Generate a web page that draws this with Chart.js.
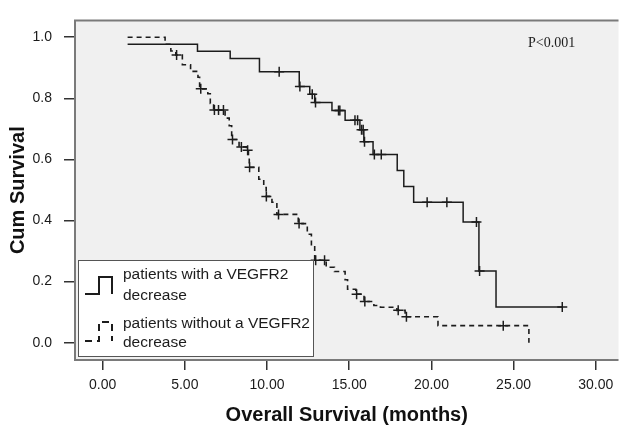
<!DOCTYPE html>
<html>
<head>
<meta charset="utf-8">
<title>Overall survival by VEGFR2 change</title>
<script src="https://cdn.jsdelivr.net/npm/chart.js@4.4.1/dist/chart.umd.min.js"></script>
<style>
  html, body { margin: 0; padding: 0; background: #fff; }
  #km { display: block; }
</style>
</head>
<body>
<canvas id="km" width="625" height="427"></canvas>
<script>
/* Kaplan-Meier curves: overall survival, VEGFR2 decrease vs no decrease */

const xTicks = [0, 5, 10, 15, 20, 25, 30];
const yTicks = [0, 0.2, 0.4, 0.6, 0.8, 1.0];

// patients with a VEGFR2 decrease (solid)
const withTime = [1.52, 5.77, 7.76, 9.54, 11.96, 12.6, 12.9, 13.95, 14.75, 15.65, 15.89, 16.45, 17.92, 18.32, 18.92, 21.93, 22.89, 23.93, 27.96];
const withSurv = [0.977, 0.954, 0.930, 0.887, 0.839, 0.813, 0.786, 0.760, 0.728, 0.697, 0.658, 0.616, 0.564, 0.511, 0.460, 0.395, 0.235, 0.117, 0.117];
const withCensor = [10.74, 12.0, 12.75, 12.95, 14.35, 14.43, 15.35, 15.51, 15.75, 15.85, 15.93, 16.53, 16.95, 19.74, 20.94, 22.74, 22.93, 27.96];

// patients without a VEGFR2 decrease (dashed)
const withoutTime = [1.52, 3.8, 4.15, 4.45, 4.85, 5.35, 5.8, 5.9, 6.4, 6.55, 6.75, 7.45, 7.7, 7.85, 8.3, 8.75, 8.87, 8.92, 9.5, 9.8, 9.95, 10.3, 10.6, 11.9, 12.45, 12.7, 12.9, 13.6, 14.1, 14.75, 14.9, 15.4, 15.9, 16.5, 16.9, 17.9, 18.4, 20.4, 25.93];
const withoutSurv = [1.0, 0.977, 0.955, 0.942, 0.91, 0.888, 0.869, 0.831, 0.815, 0.783, 0.762, 0.735, 0.71, 0.665, 0.641, 0.63, 0.605, 0.574, 0.535, 0.508, 0.479, 0.46, 0.42, 0.39, 0.355, 0.317, 0.27, 0.247, 0.233, 0.206, 0.175, 0.159, 0.135, 0.122, 0.116, 0.106, 0.085, 0.056, 0.0];
const withoutCensor = [4.5, 5.97, 6.8, 7.05, 7.35, 7.9, 8.44, 8.82, 8.94, 9.96, 10.7, 11.95, 12.96, 13.5, 15.45, 15.95, 17.98, 18.48, 24.37];

const legendLines = [['patients with a VEGFR2', 'decrease'], ['patients without a VEGFR2', 'decrease']];
const pLabel = 'P<0.001';

const sans = '"Liberation Sans", Arial, sans-serif';
const ink = '#1c1c1c';

function steps(times, surv) {
  return times.map((t, i) => ({ x: t, y: surv[i] }));
}

function survAt(times, surv, t) {
  let s = surv[0];
  for (let i = 0; i < times.length; i++) if (times[i] <= t) s = surv[i];
  return s;
}

function marks(times, surv, cens) {
  return cens.map(t => ({ x: t, y: survAt(times, surv, t) }));
}

const frame = {
  id: 'frame',
  beforeDraw(chart) {
    const { ctx, chartArea: a } = chart;
    ctx.save();
    ctx.fillStyle = '#f0f0f0';
    ctx.fillRect(a.left, a.top, a.right - a.left, a.bottom - a.top);
    ctx.restore();
  },
  afterDraw(chart) {
    const { ctx, chartArea: a } = chart;
    ctx.save();
    ctx.strokeStyle = '#7a7a7a';
    ctx.lineWidth = 2;
    ctx.beginPath();
    ctx.moveTo(a.right, a.top);
    ctx.lineTo(a.left, a.top);
    ctx.lineTo(a.left, a.bottom);
    ctx.lineTo(a.right, a.bottom);
    ctx.stroke();

    // p value
    ctx.fillStyle = ink;
    ctx.font = '14px "Liberation Serif", "Times New Roman", serif';
    ctx.textBaseline = 'middle';
    ctx.fillText(pLabel, 528, 43);

    // legend box
    ctx.fillStyle = '#fff';
    ctx.fillRect(78, 260, 235, 96);
    ctx.strokeStyle = '#555';
    ctx.lineWidth = 1;
    ctx.strokeRect(78.5, 260.5, 235, 96);

    ctx.strokeStyle = ink;
    ctx.lineWidth = 2;
    ctx.beginPath();
    ctx.moveTo(85, 294); ctx.lineTo(99, 294); ctx.lineTo(99, 277); ctx.lineTo(112, 277); ctx.lineTo(112, 294);
    ctx.stroke();
    ctx.setLineDash([7, 5]);
    ctx.beginPath();
    ctx.moveTo(85, 341); ctx.lineTo(99, 341); ctx.lineTo(99, 322); ctx.lineTo(112, 322); ctx.lineTo(112, 341);
    ctx.stroke();
    ctx.setLineDash([]);

    ctx.fillStyle = ink;
    ctx.font = '15.5px ' + sans;
    const rows = [[275, 296], [324, 343]];
    legendLines.forEach((lines, i) => {
      lines.forEach((txt, j) => ctx.fillText(txt, 123, rows[i][j]));
    });
    ctx.restore();
  }
};

new Chart(document.getElementById('km'), {
  type: 'line',
  data: {
    datasets: [
      {
        label: legendLines[0].join(' '),
        data: steps(withTime, withSurv),
        stepped: 'before',
        borderColor: ink,
        borderWidth: 1.5,
        pointRadius: 0,
        fill: false,
      },
      {
        label: legendLines[1].join(' '),
        data: steps(withoutTime, withoutSurv),
        stepped: 'before',
        borderColor: ink,
        borderWidth: 1.6,
        borderDash: [5, 4],
        pointRadius: 0,
        fill: false,
      },
      {
        label: 'censored (with)',
        data: marks(withTime, withSurv, withCensor),
        showLine: false,
        pointStyle: 'cross',
        pointRadius: 5,
        pointBorderWidth: 1.5,
        pointBorderColor: ink,
      },
      {
        label: 'censored (without)',
        data: marks(withoutTime, withoutSurv, withoutCensor),
        showLine: false,
        pointStyle: 'cross',
        pointRadius: 5,
        pointBorderWidth: 1.5,
        pointBorderColor: ink,
      },
    ],
  },
  options: {
    responsive: false,
    animation: false,
    events: [],
    layout: { padding: { top: 9, right: 0, left: 0, bottom: 0 } },
    plugins: { legend: { display: false }, tooltip: { enabled: false } },
    scales: {
      x: {
        type: 'linear',
        min: -1.68,
        max: 31.38,
        afterBuildTicks: s => { s.ticks = xTicks.map(v => ({ value: v })); },
        afterFit: s => { s.height = 67; },
        grid: { drawOnChartArea: false, drawTicks: true, tickLength: 10, color: '#333', lineWidth: 1.5 },
        border: { display: false },
        ticks: { padding: 7, color: '#1a1a1a', font: { family: sans, size: 14 }, maxRotation: 0, autoSkip: false, callback: v => Number(v).toFixed(2) },
        title: { display: true, text: 'Overall Survival (months)', color: '#111', font: { family: sans, size: 20, weight: 'bold' }, padding: { top: 0, bottom: 0 } },
      },
      y: {
        type: 'linear',
        min: -0.0565,
        max: 1.055,
        afterBuildTicks: s => { s.ticks = yTicks.map(v => ({ value: v })); },
        afterFit: s => { s.width = 75; },
        grid: { drawOnChartArea: false, drawTicks: true, tickLength: 11, color: '#333', lineWidth: 1.5 },
        border: { display: false },
        ticks: { padding: 12, color: '#1a1a1a', font: { family: sans, size: 14 }, autoSkip: false, callback: v => Number(v).toFixed(1) },
        title: { display: true, text: 'Cum Survival', color: '#111', font: { family: sans, size: 20, weight: 'bold' }, padding: { top: 6, bottom: 0 } },
      },
    },
  },
  plugins: [frame],
});
</script>
</body>
</html>
